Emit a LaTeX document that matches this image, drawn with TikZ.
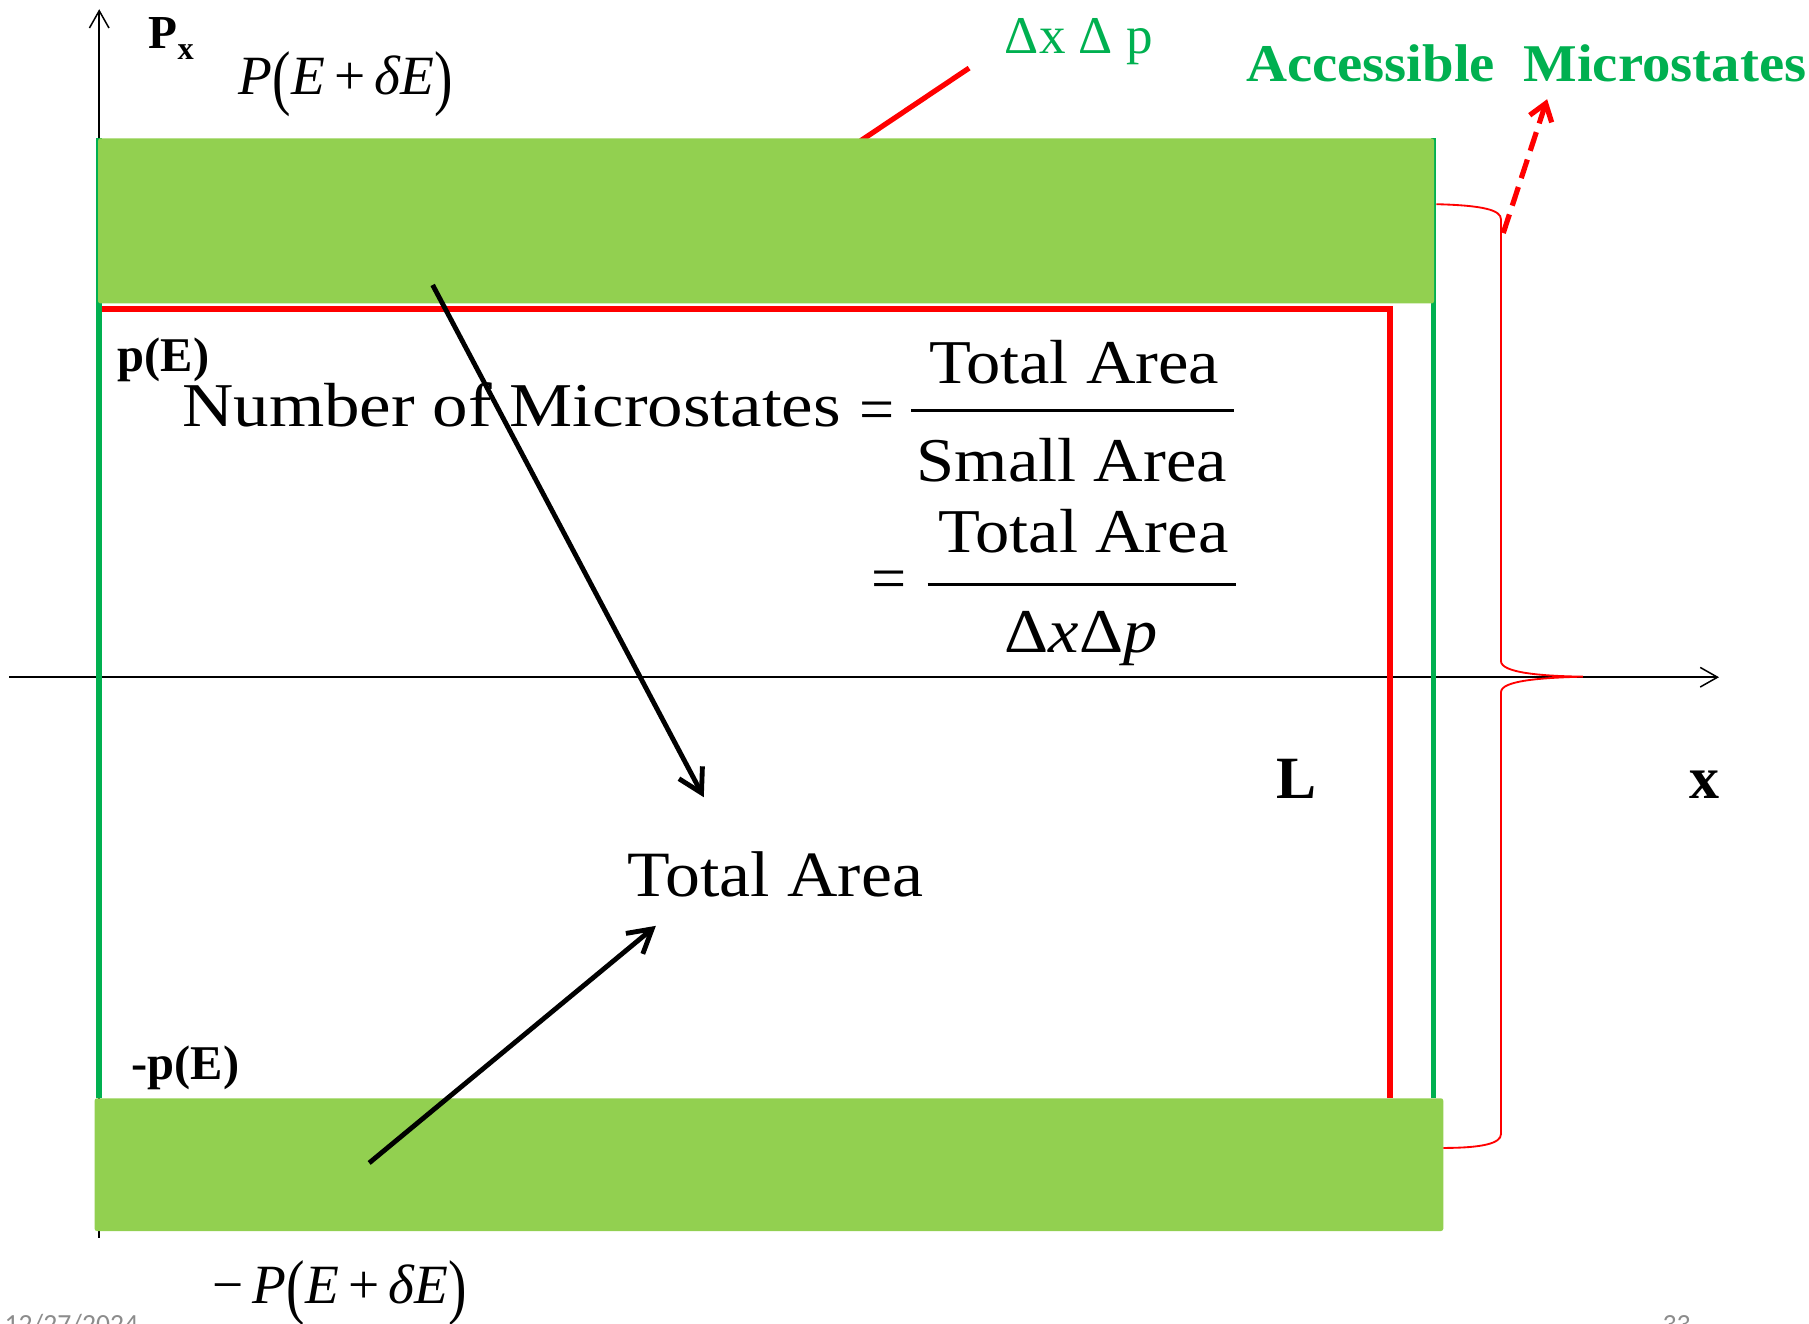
\documentclass[tikz,border=0pt]{standalone}
\usepackage{fontspec}
\usepackage{graphicx}
\setmainfont{Liberation Serif}
\newfontfamily\footfont{Carlito}
\usetikzlibrary{arrows.meta}
\definecolor{lgreen}{HTML}{92D050}
\definecolor{dgreen}{HTML}{00B050}
\definecolor{pred}{HTML}{FF0000}
\definecolor{footgray}{HTML}{8C8C8C}
\newcommand{\tlp}{\raisebox{-0.13em}{\scalebox{1}[1.3]{(}}}
\newcommand{\trp}{\raisebox{-0.13em}{\scalebox{1}[1.3]{)}}}
\begin{document}
\begin{tikzpicture}[x=1pt,y=-1pt,
  lbl/.style={inner sep=0pt, outer sep=0pt},
  axisline/.style={line width=1.3pt, -{Straight Barb[length=15pt,width=17pt]}},
  band/.style={fill=lgreen, draw=none, rounded corners=2pt},
  wall/.style={draw=dgreen, line width=5pt},
  redbox/.style={draw=pred, line width=5pt},
  ptr/.style={line width=4.2pt, -{Straight Barb[length=20pt,width=23pt]}},
  eqf/.style={lbl, font=\fontsize{54}{60}\selectfont},
  boldlbl/.style={lbl, font=\bfseries\fontsize{42}{48}\selectfont},
  greentxt/.style={lbl, text=dgreen},
  fracbar/.style={line width=2.5pt},
]
\useasboundingbox (0,0) rectangle (1568,1147);

% axes
\coordinate (ybot) at (86,1073);
\coordinate (ytop) at (86,8);
\coordinate (xl) at (8,587);
\coordinate (xr) at (1490,587);
\draw[axisline] (ybot) -- (ytop);
\draw[axisline] (xl) -- (xr);

% green walls
\coordinate (wl1) at (86,120);
\coordinate (wl2) at (86,952);
\coordinate (wr1) at (1242.5,120);
\coordinate (wr2) at (1242.5,952);
\draw[wall] (wl1) -- (wl2);
\draw[wall] (wr1) -- (wr2);

% red box
\coordinate (rb1) at (88,268);
\coordinate (rb2) at (1204.5,268);
\coordinate (rb3) at (1204.5,952);
\draw[redbox] (rb1) -- (rb2) -- (rb3);

% pointer to dx dp
\coordinate (dp1) at (746,122);
\coordinate (dp2) at (840,59);
\draw[pred, line width=4.5pt] (dp1) -- (dp2);

% green bands
\fill[band] (85,120) rectangle (1243,263);
\fill[band] (82,952) rectangle (1251,1067);

% brace
\draw[pred, line width=1.6pt] (1245,177) .. controls (1285,178) and (1301,182) .. (1301,190)
  -- (1301,573) .. controls (1301,583) and (1335,586) .. (1372,586.5)
  .. controls (1335,587.5) and (1301,590) .. (1301,600)
  -- (1301,983) .. controls (1301,991) and (1285,995) .. (1251,995);

% dashed arrow
\coordinate (ds) at (1303,202);
\coordinate (de) at (1341,86);
\draw[pred, line width=4.5pt, dash pattern=on 17pt off 8pt, -{Straight Barb[length=14pt,width=20pt]}] (ds) -- (de);

% labels
\node[lbl, font=\bfseries\fontsize{41}{48}\selectfont, anchor=base west] (px) at (129,42) {P\raisebox{-0.24em}{\fontsize{28}{30}\selectfont x}};
\node[lbl, font=\fontsize{48}{56}\selectfont, anchor=base west] (ptop) at (207,82) {\textit{P}\tlp\textit{E}\,+\,\textit{δE}\trp};
\node[boldlbl, anchor=base west] (pE) at (102,322) {p(E)};
\node[boldlbl, anchor=base west] (mpE) at (114,936) {-p(E)};
\node[lbl, font=\fontsize{48}{56}\selectfont, anchor=base west] (pbot) at (184,1130) {−\,\textit{P}\tlp\textit{E}\,+\,\textit{δE}\trp};

\node[greentxt, font=\fontsize{46}{52}\selectfont, anchor=base west] (dxdp) at (871,46) {Δx Δ p};
\node[greentxt, font=\bfseries\fontsize{46}{52}\selectfont, anchor=base west] (acc) at (1080,71) {\scalebox{1.07}[1]{Accessible\ \ Microstates}};

% equation
\node[eqf, anchor=base west] (nom) at (158,370) {\scalebox{1.14}[1]{Number of Microstates}};
\node[eqf, anchor=base] (eq1) at (760,373) {=};
\coordinate (f1l) at (790,355.5);
\coordinate (f1r) at (1070,355.5);
\draw[fracbar] (f1l) -- (f1r);
\node[eqf, anchor=base] (num1) at (931,332) {\scalebox{1.1}[1]{Total Area}};
\node[eqf, anchor=base] (den1) at (929,417) {\scalebox{1.1}[1]{Small Area}};
\node[eqf, anchor=base] (eq2) at (771,520) {=};
\coordinate (f2l) at (804,507);
\coordinate (f2r) at (1071,507);
\draw[fracbar] (f2l) -- (f2r);
\node[eqf, anchor=base] (num2) at (939,479) {\scalebox{1.1}[1]{Total Area}};
\node[eqf, anchor=base] (den2) at (937,566) {\scalebox{1.1}[1]{Δ\textit{x}Δ\textit{p}}};

\node[lbl, font=\fontsize{56}{62}\selectfont, anchor=base west] (tot) at (544,777) {\scalebox{1.08}[1]{Total Area}};
\node[lbl, font=\bfseries\fontsize{52}{58}\selectfont, anchor=base west] (Lb) at (1106,692) {L};
\node[lbl, font=\bfseries\fontsize{52}{58}\selectfont, anchor=base west] (xb) at (1464,692) {x};

% black arrows
\coordinate (a1s) at (375,247);
\coordinate (a1e) at (610,691);
\coordinate (a2s) at (320,1008);
\coordinate (a2e) at (568.5,802.5);
\draw[ptr] (a1s) -- (a1e);
\draw[ptr] (a2s) -- (a2e);

% footer (cut by the lower edge, as in the reference)
\begin{scope}
\clip (0,0) rectangle (1568,1147);
\node[lbl, text=footgray, font=\footfont\fontsize{24}{28}\selectfont, anchor=base west] (date) at (4,1156) {12/27/2024};
\node[lbl, text=footgray, font=\footfont\fontsize{24}{28}\selectfont, anchor=base west] (pg) at (1441,1156) {33};
\end{scope}
\end{tikzpicture}
\end{document}
